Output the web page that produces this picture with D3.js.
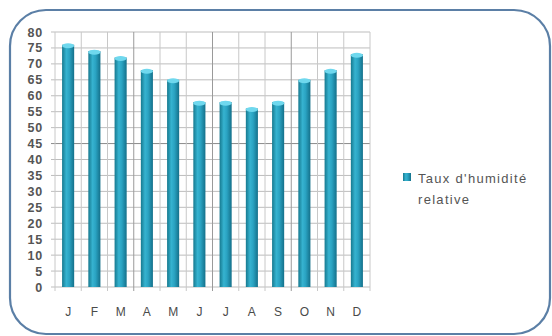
<!DOCTYPE html>
<html><head><meta charset="utf-8">
<script src="https://cdn.jsdelivr.net/npm/d3@7"></script>
<style>body{margin:0;background:#fff}svg{display:block}</style>
</head><body>
<svg id="c" width="552" height="336"></svg>
<script>
const months = ["J","F","M","A","M","J","J","A","S","O","N","D"];
const humidity = [76,74,72,68,65,58,58,56,58,65,68,73];
const yTicks = [0,5,10,15,20,25,30,35,40,45,50,55,60,65,70,75,80];
const seriesName = ["Taux d'humidité","relative"];

const svg = d3.select("#c");
const m={l:55,t:32,r:370,b:287};
const defs=svg.append("defs");
const g1=defs.append("linearGradient").attr("id","bar").attr("x1","0").attr("x2","1");
g1.append("stop").attr("offset","0").attr("stop-color","#16798f");
g1.append("stop").attr("offset","0.35").attr("stop-color","#36b3d0");
g1.append("stop").attr("offset","0.6").attr("stop-color","#2aa3c2");
g1.append("stop").attr("offset","1").attr("stop-color","#14708a");

// outer frame
svg.append("rect").attr("x",10).attr("y",10).attr("width",540).attr("height",324)
  .attr("rx",36).attr("ry",36).attr("fill","#fff").attr("stroke","#5b7fa6").attr("stroke-width",2.2);

const x=d3.scaleBand().domain(d3.range(months.length)).range([m.l,m.r]).paddingInner(0.54).paddingOuter(0.27);
const xb=d3.scaleLinear().domain([0,months.length]).range([m.l,m.r]);
const y=d3.scaleLinear().domain([0,80]).range([m.b,m.t]);

// grid
const grid=svg.append("g");
grid.selectAll("line.h").data(yTicks).join("line")
  .attr("x1",m.l-4).attr("x2",m.r).attr("y1",d=>y(d)).attr("y2",d=>y(d))
  .attr("stroke",d=>d===45?"#8a8a8a":"#bdbdbd").attr("stroke-width",1);
grid.selectAll("line.v").data(d3.range(months.length+1)).join("line")
  .attr("y1",m.t).attr("y2",m.b+4).attr("x1",d=>xb(d)).attr("x2",d=>xb(d))
  .attr("stroke",d=>(d%3===0&&d>0&&d<12)?"#9a9a9a":"#c8c8c8").attr("stroke-width",1);

// bars
const bars=svg.append("g");
bars.selectAll("rect").data(humidity).join("rect")
  .attr("x",(d,i)=>x(i)).attr("width",x.bandwidth())
  .attr("y",d=>y(d)).attr("height",d=>m.b-y(d)).attr("fill","url(#bar)");
bars.selectAll("ellipse").data(humidity).join("ellipse")
  .attr("cx",(d,i)=>x(i)+x.bandwidth()/2).attr("cy",d=>y(d)+1)
  .attr("rx",x.bandwidth()/2).attr("ry",2.5).attr("fill","#6fd8ee");

// y axis labels
svg.append("g").selectAll("text").data(yTicks).join("text")
  .attr("x",43).attr("y",d=>y(d)+4.5).attr("text-anchor","end")
  .attr("font-family","Liberation Sans, Arial, sans-serif").attr("font-size",12.5)
  .attr("font-weight","bold").attr("letter-spacing",0.8).attr("fill","#555").text(d=>d);

// x labels
svg.append("g").selectAll("text").data(months).join("text")
  .attr("x",(d,i)=>x(i)+x.bandwidth()/2).attr("y",316).attr("text-anchor","middle")
  .attr("font-family","Liberation Sans, Arial, sans-serif").attr("font-size",12)
  .attr("fill","#4a4a4a").text(d=>d);

// legend
const lg=svg.append("g");
lg.append("rect").attr("x",403).attr("y",173).attr("width",8).attr("height",8).attr("fill","url(#bar)");
lg.selectAll("text").data(seriesName).join("text")
  .attr("x",418).attr("y",(d,i)=>183+i*21)
  .attr("font-family","Liberation Sans, Arial, sans-serif").attr("font-size",13)
  .attr("letter-spacing",1.3).attr("fill","#555").text(d=>d);
</script>
</body></html>
